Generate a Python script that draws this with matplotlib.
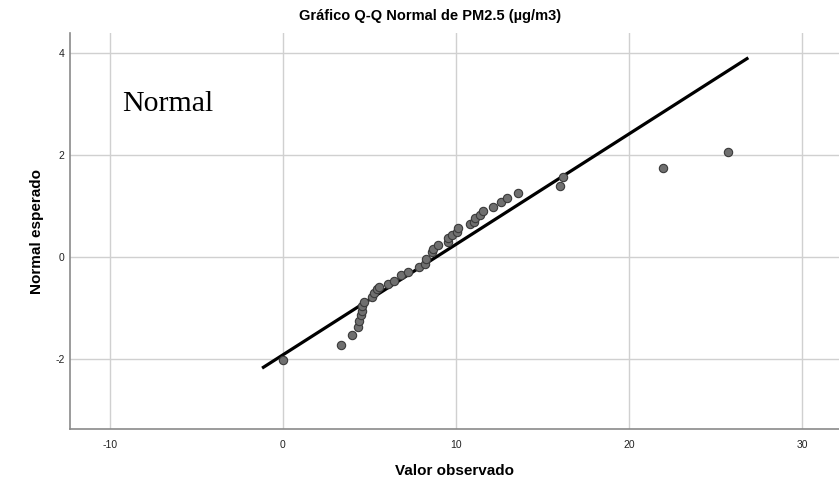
import matplotlib
matplotlib.use("Agg")
import matplotlib.pyplot as plt
import numpy as np

# Valores observados de PM2.5 y su cuantil normal esperado
valor_observado = [0.0, 3.35, 3.97, 4.35, 4.41, 4.49, 4.55, 4.60, 4.68, 5.18,
                   5.26, 5.47, 5.57, 6.05, 6.44, 6.82, 7.25, 7.86, 8.20, 8.30,
                   8.60, 8.69, 8.98, 9.52, 9.56, 9.79, 10.08, 10.14, 10.81, 11.04,
                   11.10, 11.39, 11.58, 12.16, 12.58, 12.93, 13.60, 16.01, 16.20,
                   21.98, 25.74]
normal_esperado = [-2.02, -1.73, -1.52, -1.37, -1.25, -1.14, -1.05, -0.95, -0.88, -0.78,
                   -0.71, -0.62, -0.58, -0.52, -0.46, -0.35, -0.29, -0.20, -0.13, -0.04,
                   0.09, 0.16, 0.24, 0.30, 0.37, 0.44, 0.50, 0.56, 0.64, 0.69,
                   0.76, 0.82, 0.90, 0.99, 1.07, 1.16, 1.26, 1.40, 1.56,
                   1.75, 2.05]

# Recta normal teorica: z = (x - media) / desviacion
media = 8.86
desviacion = 4.62
recta_x = [-1.2, 26.9]

xticks = [-10, 0, 10, 20, 30]
yticks = [-2, 0, 2, 4]

plt.rcParams['font.family'] = ['Liberation Sans', 'DejaVu Sans']
plt.rcParams['axes.unicode_minus'] = False

fig = plt.figure(figsize=(8.39, 4.8), dpi=100)
ax = fig.add_axes([70 / 839, 51 / 480, 1 - 70 / 839, (429 - 33) / 480])

recta_x = np.array(recta_x)
recta_y = (recta_x - media) / desviacion
ax.plot(recta_x, recta_y, color='black', linewidth=2.3, solid_capstyle='butt', zorder=3)

ax.scatter(valor_observado, normal_esperado, s=36, facecolor='#6f6f6f',
           edgecolor='#3a3a3a', linewidth=0.8, zorder=4)

ax.set_xlim(-12.3, 32.14)
ax.set_ylim(-3.37, 4.39)
ax.set_xticks(xticks)
ax.set_yticks(yticks)
ax.grid(True, color='#d0d0d0', linewidth=1.0)
ax.set_axisbelow(True)

for lado in ['top', 'right']:
    ax.spines[lado].set_visible(False)
for lado in ['left', 'bottom']:
    ax.spines[lado].set_color('#8a8a8a')
    ax.spines[lado].set_linewidth(1.2)

ax.tick_params(axis='both', length=0, labelsize=7.5, colors='#222222')
ax.tick_params(axis='x', pad=8)
ax.tick_params(axis='y', pad=4)

ax.set_xlabel('Valor observado', fontsize=11, fontweight='bold', labelpad=10)
ax.set_ylabel('Normal esperado', fontsize=11, fontweight='bold', labelpad=8)

fig.text(430 / 839, 1 - 16 / 480, 'Gráfico Q-Q Normal de PM2.5 (µg/m3)',
         ha='center', va='center', fontsize=10.5, fontweight='bold')

ax.text(-9.3, 3.0, 'Normal', family=['Liberation Serif', 'DejaVu Serif'],
        fontsize=21.5, ha='left', va='center')

fig.savefig('out.png', dpi=100)
